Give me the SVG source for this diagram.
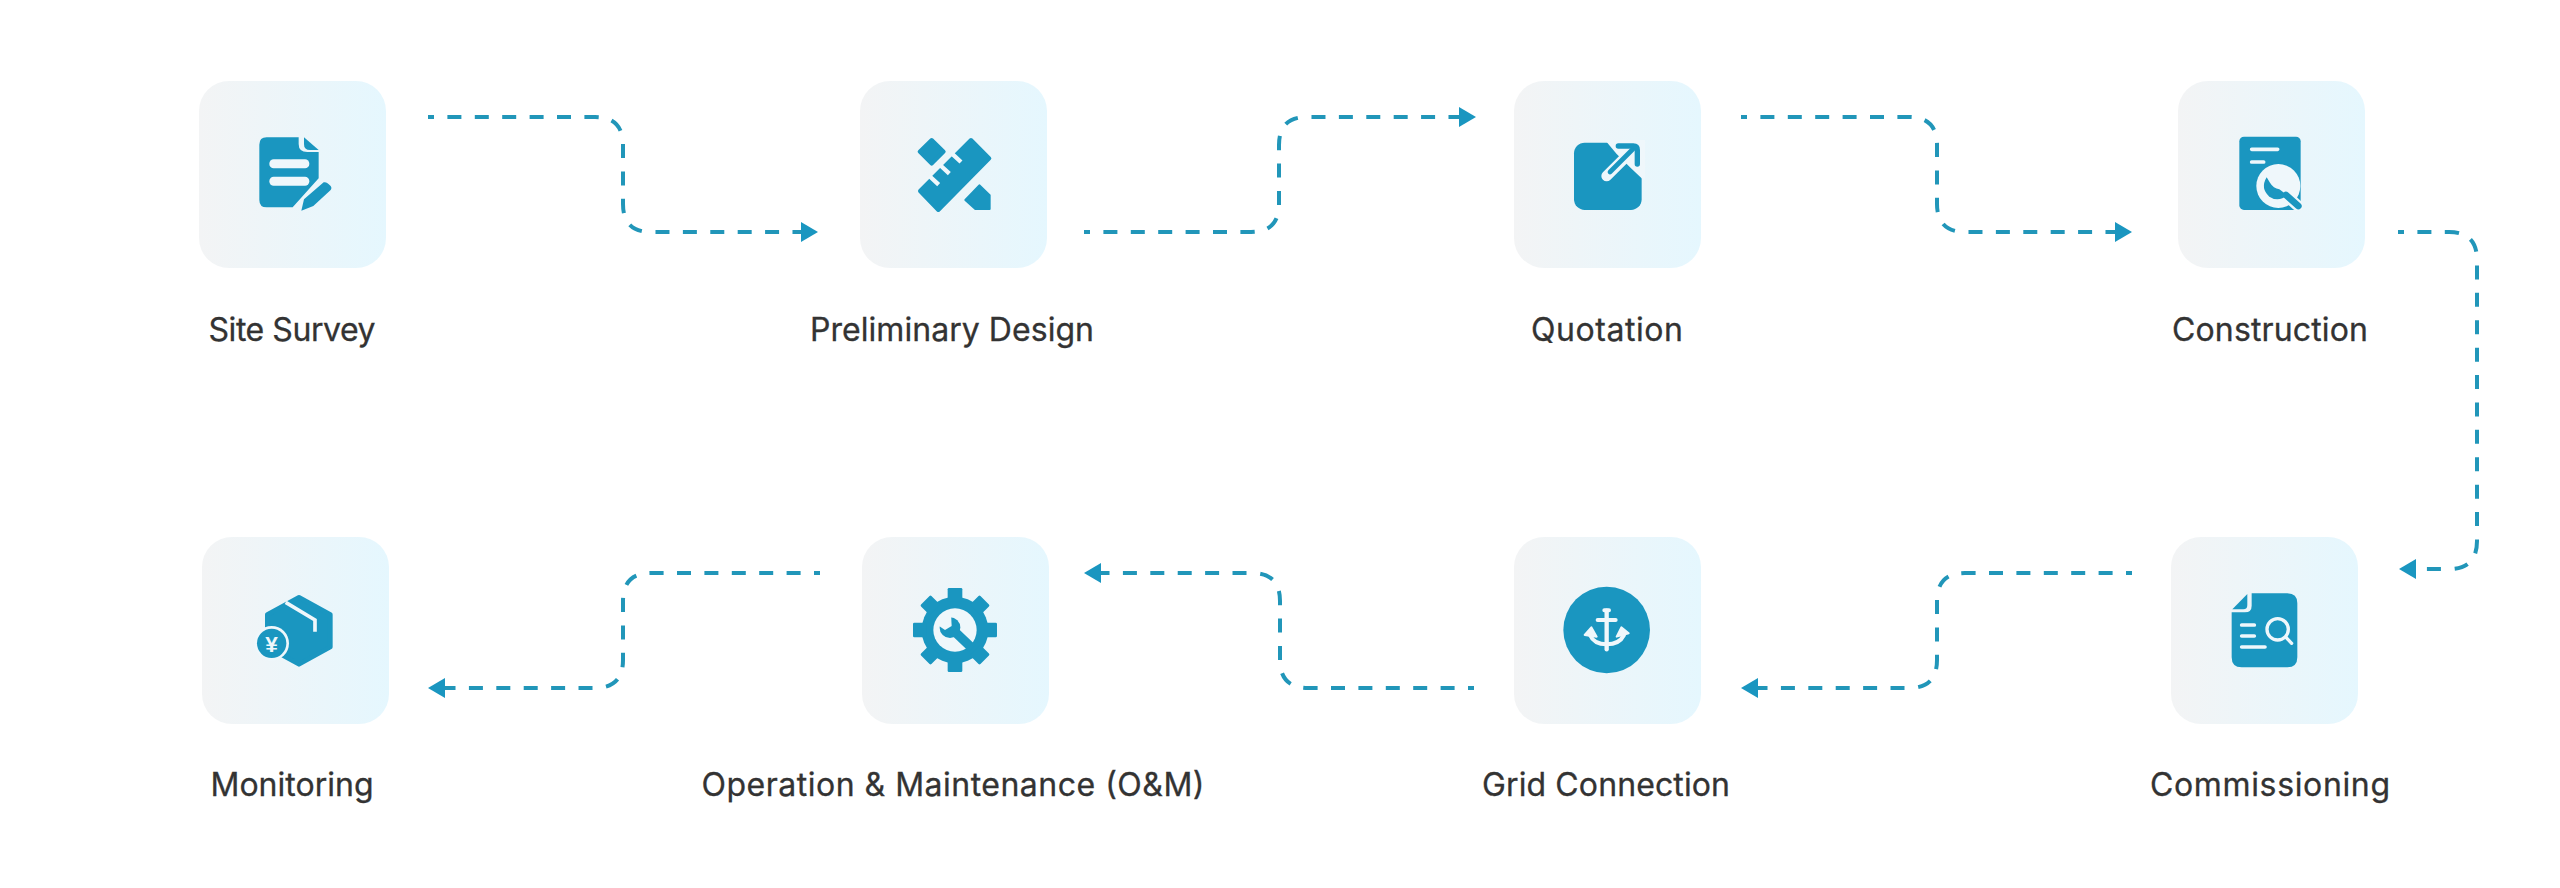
<svg xmlns="http://www.w3.org/2000/svg" xmlns:xlink="http://www.w3.org/1999/xlink" width="2560" height="888" viewBox="0 0 2560 888">
<style>
.card{fill:url(#cardGrad)}
.label{font-family:"Inter","Noto Sans",sans-serif;font-size:32px;font-weight:400;fill:#333;text-anchor:middle;stroke:#333;stroke-width:.3}
.conn{fill:none;stroke:#2196b9;stroke-width:4;stroke-dasharray:14 13.4;stroke-dashoffset:8;marker-end:url(#arrow)}
.ic{fill:#1a96c0}
.cut{fill:#eff7fb}
.ln{fill:none;stroke:#eff7fb;stroke-linecap:round}
.bl{fill:none;stroke:#1a96c0;stroke-linecap:round}
</style>
<defs>
<linearGradient id="cardGrad" x1="0" y1="0" x2="1" y2="0"><stop offset="0" stop-color="#f3f4f5"/><stop offset="1" stop-color="#e5f7fe"/></linearGradient>
<marker id="arrow" markerUnits="userSpaceOnUse" markerWidth="18" markerHeight="22" refX="0" refY="11" orient="auto"><path d="M0 1L17 11L0 21Z" fill="#1a96c0"/></marker>
<rect id="tooth" x="-22" y="-126" width="44" height="40" rx="4" fill="#1a96c0"/>
</defs>
<rect width="2560" height="888" fill="#fff"/>
<g id="connectors">
<path class="conn" d="M428 117H595Q623 117 623 145V204Q623 232 651 232H801"/>
<path class="conn" d="M1084 232H1251Q1279 232 1279 204V145Q1279 117 1307 117H1459"/>
<path class="conn" d="M1741 117H1909Q1937 117 1937 145V204Q1937 232 1965 232H2115"/>
<path class="conn" d="M2398 232H2449Q2477 232 2477 260V541Q2477 569 2449 569H2416"/>
<path class="conn" d="M2132 573H1965Q1937 573 1937 601V660Q1937 688 1909 688H1758"/>
<path class="conn" d="M1474 688H1308Q1280 688 1280 660V601Q1280 573 1252 573H1101"/>
<path class="conn" d="M820 573H651Q623 573 623 601V660Q623 688 595 688H445"/>
</g>
<g id="node-site-survey">
<rect class="card" x="199" y="81" width="187" height="187" rx="30"/>
<g transform="translate(230 120) scale(.3333)">
<path class="ic" d="M110 52H206V72Q206 96 232 96H266V175L188 262H110Q88 262 88 240V74Q88 52 110 52Z"/>
<path class="ic" d="M222 52L266 90H240Q222 90 222 72Z"/>
<rect class="cut" x="118" y="118" width="120" height="27" rx="13"/>
<rect class="cut" x="118" y="170" width="120" height="27" rx="13"/>
<path class="ic" d="M214 272L222 238L281 187Q290 184 302 198Q308 206 298 214L250 258Z"/>
</g>
<text class="label" x="292" y="341" textLength="167" lengthAdjust="spacing">Site Survey</text>
</g>
<g id="node-preliminary-design">
<rect class="card" x="860" y="81" width="187" height="187" rx="30"/>
<g transform="translate(890 120) scale(.3333)">
<path class="ic" stroke="#1a96c0" stroke-width="12" stroke-linejoin="round" d="M125 60L161 95L125 131L89 95Z"/>
<path class="ic" stroke="#1a96c0" stroke-width="12" stroke-linejoin="round" d="M243 60L298 115L145 270L90 213Z"/>
<path class="ln" stroke-width="13" d="M118 168L146 194M150 135L178 161M185 100L213 126" style="stroke-linecap:butt"/>
<path class="ic" stroke="#1a96c0" stroke-width="6" stroke-linejoin="round" d="M268 196L299 226V267H256L226 240Z"/>
</g>
<text class="label" x="952" y="341" textLength="284" lengthAdjust="spacing">Preliminary Design</text>
</g>
<g id="node-quotation">
<rect class="card" x="1514" y="81" width="187" height="187" rx="30"/>
<g transform="translate(1550 120) scale(.3333)">
<rect class="ic" x="72" y="68" width="203" height="202" rx="32"/>
<path class="cut" d="M165 60H285V180L275 175L240 142L200 102Z"/>
<path class="ln" stroke-width="32" d="M170 168L240 98"/>
<path class="bl" stroke-width="14" d="M180 156L252 84"/>
<path class="bl" stroke-width="16" d="M205 78H250Q262 78 262 90V132"/>
</g>
<text class="label" x="1607" y="341" textLength="152" lengthAdjust="spacing">Quotation</text>
</g>
<g id="node-construction">
<rect class="card" x="2178" y="81" width="187" height="187" rx="30"/>
<g transform="translate(2210 120) scale(.3333)">
<rect class="ic" x="88" y="50" width="184" height="220" rx="14"/>
<path class="ln" stroke-width="11" d="M125 88H203M125 126H161"/>
<circle cx="205" cy="198" r="66" fill="#eff7fb"/>
<path class="ln" stroke-width="34" d="M228 225L262 256"/>
<path class="bl" stroke-width="20" d="M228 225L265 258"/>
<path class="ic" d="M170 172Q150 205 178 230Q205 248 232 226L208 208Q190 205 180 188Z"/>
</g>
<text class="label" x="2270" y="341" textLength="196" lengthAdjust="spacing">Construction</text>
</g>
<g id="node-commissioning">
<rect class="card" x="2171" y="537" width="187" height="187" rx="30"/>
<g transform="translate(2210 580) scale(.3333)">
<path class="ic" d="M125 40H232Q262 40 262 70V232Q262 262 232 262H95Q65 262 65 232V97H105Q125 97 125 77Z"/>
<path class="ic" d="M112 42V75Q112 88 100 88H67Z"/>
<path class="ln" stroke-width="11" d="M95 135H133M95 168H133M95 201H165"/>
<circle cx="203" cy="148" r="32" fill="none" stroke="#eff7fb" stroke-width="10"/>
<path class="ln" stroke-width="10" d="M228 172L245 190"/>
</g>
<text class="label" x="2270" y="796" textLength="240" lengthAdjust="spacing">Commissioning</text>
</g>
<g id="node-grid-connection">
<rect class="card" x="1514" y="537" width="187" height="187" rx="30"/>
<g transform="translate(1550 580) scale(.3333)">
<circle class="ic" cx="170" cy="150" r="130"/>
<path class="ln" stroke-width="12" d="M163 91H177M143 120H197"/>
<path class="ln" stroke-width="13" d="M170 92V208"/>
<path class="ln" stroke-width="12" d="M120 165Q132 193 170 193Q208 193 222 165"/>
<path fill="#eff7fb" stroke="#eff7fb" stroke-width="6" stroke-linejoin="round" d="M104 165L124 142L140 170Z"/>
<path fill="#eff7fb" stroke="#eff7fb" stroke-width="6" stroke-linejoin="round" d="M236 160L214 142L200 170Z"/>
</g>
<text class="label" x="1606" y="796" textLength="248" lengthAdjust="spacing">Grid Connection</text>
</g>
<g id="node-operation-maintenance">
<rect class="card" x="862" y="537" width="187" height="187" rx="30"/>
<g transform="translate(895 580) scale(.3333)">
<g transform="translate(180 150)">
<circle r="100" fill="#1a96c0"/>
<use xlink:href="#tooth"/><use xlink:href="#tooth" transform="rotate(45)"/><use xlink:href="#tooth" transform="rotate(90)"/><use xlink:href="#tooth" transform="rotate(135)"/><use xlink:href="#tooth" transform="rotate(180)"/><use xlink:href="#tooth" transform="rotate(225)"/><use xlink:href="#tooth" transform="rotate(270)"/><use xlink:href="#tooth" transform="rotate(315)"/>
<circle r="65" fill="#eff7fb"/>
</g>
<path class="bl" stroke-width="28" d="M172 148L232 205" style="stroke-linecap:butt"/>
<circle class="ic" cx="165" cy="143" r="31"/>
<path class="cut" d="M135 108L168 98L170 138L150 150L120 130Z"/>
</g>
<text class="label" x="953" y="796" textLength="503" lengthAdjust="spacing">Operation &amp; Maintenance (O&amp;M)</text>
</g>
<g id="node-monitoring">
<rect class="card" x="202" y="537" width="187" height="187" rx="30"/>
<g transform="translate(235 580) scale(.3333)">
<path class="ic" stroke="#1a96c0" stroke-width="14" stroke-linejoin="round" d="M192 52L286 104V201L192 253L97 201V104Z"/>
<path class="ln" stroke-width="11" d="M152 67L240 120V155" style="stroke-linecap:butt"/>
<circle cx="110" cy="190" r="52" fill="#eff7fb"/>
<circle class="ic" cx="110" cy="190" r="44"/>
<text x="110" y="215" text-anchor="middle" font-family="Liberation Sans, sans-serif" font-weight="700" font-size="68" fill="#eff7fb">¥</text>
</g>
<text class="label" x="292" y="796" textLength="163" lengthAdjust="spacing">Monitoring</text>
</g>
</svg>
